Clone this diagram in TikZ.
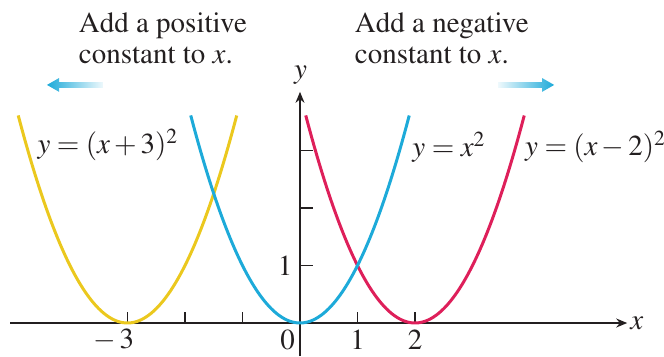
\documentclass[tikz,border=0pt]{standalone}
\usepackage[T1]{fontenc}
\usepackage{mathptmx}
\usetikzlibrary{arrows.meta}
\definecolor{curveGold}{HTML}{EBC81E}
\definecolor{curveSky}{HTML}{1DAAD9}
\definecolor{curveRose}{HTML}{DE1F5A}
\definecolor{axisInk}{HTML}{231F20}
\tikzset{
  every node/.style={font=\rmfamily\fontsize{16.5}{17.8}\selectfont, text=axisInk},
  axisline/.style={draw=axisInk, line width=0.8pt},
  axisarrow/.style={axisline, -{Stealth[length=2.2mm,width=1.8mm]}},
  shiftcurve/.style={line width=1.7pt, samples=80, smooth},
  note/.style={align=left, anchor=north west, inner sep=0pt}
}

\begin{document}
\begin{tikzpicture}[x=1.15cm,y=1.15cm]
  \useasboundingbox (-5.217,-0.574) rectangle (6.330,5.617);

  % axes
  \draw[axisline] (0,-0.574) -- (0,0);
  \draw[axisarrow] (-5.04,0) -- (5.69,0);
  \draw[axisarrow] (0,0) -- (0,4.02);
  \foreach \t in {-3,-2,-1,1,2}
    \draw[axisline] (\t,0) -- (\t,0.2);
  \foreach \t in {1,2,3}
    \draw[axisline] (0,\t) -- (0.22,\t);

  \node (xlab) at (5.86,0) {$x$};
  \node (ylab) at (0.01,4.31) {$y$};
  \node (tm3) at (-3.235,-0.296) {$-\,3$};
  \node (t0) at (-0.217,-0.296) {$0$};
  \node (t1) at (1,-0.296) {$1$};
  \node (t2) at (2,-0.296) {$2$};
  \node (ty1) at (-0.26,1) {$1$};

  % the three parabolas
  \draw[shiftcurve, curveGold, domain=-4.9:-1.1] plot (\x, {(\x+3)*(\x+3)});
  \draw[shiftcurve, curveRose, domain=0.1:3.9] plot (\x, {(\x-2)*(\x-2)});
  \draw[shiftcurve, curveSky, domain=-1.9:1.9] plot (\x, {\x*\x});

  \node[anchor=west, inner sep=0pt] (lgold) at (-4.57,3.1) {$y=(x+3)^2$};
  \node[anchor=west, inner sep=0pt] (lsky) at (1.95,3.06) {$y=x^2$};
  \node[anchor=west, inner sep=0pt] (lrose) at (3.91,3.06) {$y=(x-2)^2$};

  % captions and shift arrows
  \node[note] (posnote) at (-3.85,5.40) {Add a positive\\constant to $x$.};
  \node[note] (negnote) at (0.95,5.40) {Add a negative\\constant to $x$.};

  \shade[left color=curveSky, right color=curveSky!8]
    (-4.40,4.14) -- ++(0.21,0.12) -- ++(0,-0.07) -- ++(0.76,0) -- ++(0,-0.10)
    -- ++(-0.76,0) -- ++(0,-0.07) -- cycle;
  \shade[left color=curveSky!8, right color=curveSky]
    (4.42,4.14) -- ++(-0.21,0.12) -- ++(0,-0.07) -- ++(-0.76,0) -- ++(0,-0.10)
    -- ++(0.76,0) -- ++(0,-0.07) -- cycle;
\end{tikzpicture}
\end{document}
